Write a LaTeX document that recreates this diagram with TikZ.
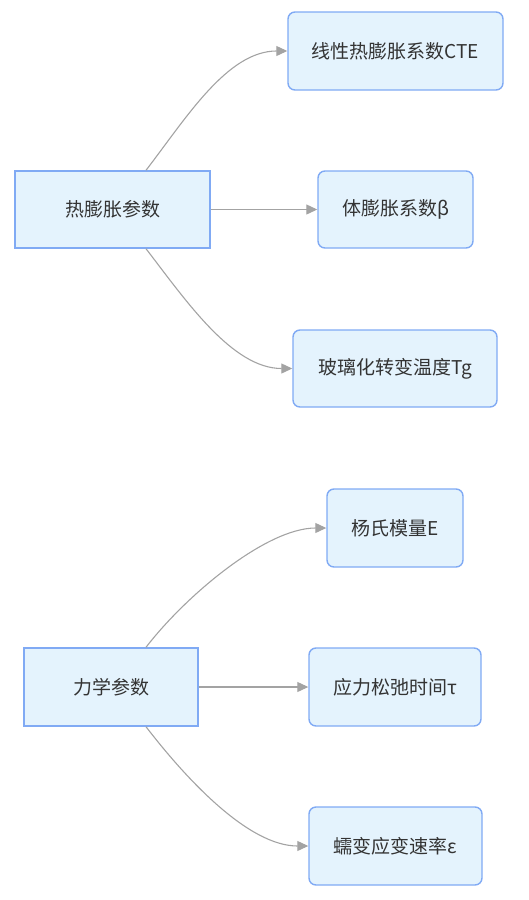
\documentclass[tikz,border=0pt]{standalone}
\usepackage{fontspec}
\setmainfont{Noto Sans CJK SC}
\usetikzlibrary{arrows.meta}
\definecolor{boxfill}{HTML}{E4F3FD}
\definecolor{boxdraw}{HTML}{80AAF4}
\definecolor{edgecol}{HTML}{A3A3A3}
\definecolor{txt}{HTML}{333333}
\begin{document}
\begin{tikzpicture}[x=1pt,y=1pt,
  base/.style={draw=boxdraw,fill=boxfill,line width=1.4pt,inner sep=0pt,
    text=txt,font=\fontsize{19}{22}\selectfont},
  rootbox/.style={base,sharp corners},
  leafbox/.style={base,rounded corners=7pt},
  link/.style={draw=edgecol,line width=1.1pt,-{Triangle[length=11pt,width=10pt,fill=edgecol]}}
]
\useasboundingbox (0,0) rectangle (529,-900);
% group 1
\node[rootbox,minimum width=195pt,minimum height=77pt] (A) at (112.5,-209.5) {热膨胀参数};
\node[leafbox,minimum width=215pt,minimum height=78pt] (a1) at (395.5,-51) {线性热膨胀系数CTE};
\node[leafbox,minimum width=155pt,minimum height=77pt] (a2) at (395.5,-209.5) {体膨胀系数β};
\node[leafbox,minimum width=204pt,minimum height=77pt] (a3) at (395,-368.5) {玻璃化转变温度Tg};
% group 2
\node[rootbox,minimum width=174pt,minimum height=78pt] (B) at (111,-687) {力学参数};
\node[leafbox,minimum width=136pt,minimum height=78pt] (b1) at (395,-528) {杨氏模量E};
\node[leafbox,minimum width=172pt,minimum height=78pt] (b2) at (395,-687) {应力松弛时间τ};
\node[leafbox,minimum width=173pt,minimum height=78pt] (b3) at (395.5,-846) {蠕变应变速率ε};
% edges
\draw[link] ([xshift=33.5pt]A.north) .. controls +(40,52) and +(-60,0) .. (a1.west);
\draw[link] (A.east) -- (a2.west);
\draw[link] ([xshift=33.5pt]A.south) .. controls +(40,-52) and +(-60,0) .. (a3.west);
\draw[link] ([xshift=35pt]B.north) .. controls +(40,52) and +(-60,0) .. (b1.west);
\draw[link] (B.east) -- (b2.west);
\draw[link] ([xshift=35pt]B.south) .. controls +(40,-52) and +(-60,0) .. (b3.west);
\end{tikzpicture}
\end{document}
